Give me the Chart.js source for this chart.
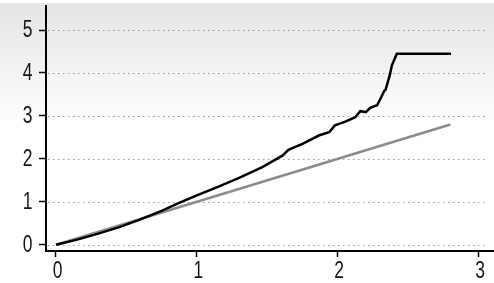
<!DOCTYPE html>
<html>
<head>
<meta charset="utf-8">
<script src="https://cdn.jsdelivr.net/npm/chart.js@4"></script>
<style>
  html, body { margin: 0; padding: 0; background: #fff; }
  #wrap { width: 494px; height: 283px; position: relative; }
</style>
</head>
<body>
<div id="wrap"><canvas id="chart"></canvas></div>
<script>
// observed curve (black)
const curveX = [0, 0.15, 0.3, 0.45, 0.59, 0.75, 0.87, 1.0, 1.15, 1.30, 1.465, 1.61, 1.65, 1.75, 1.87, 1.94, 1.98, 2.05, 2.125, 2.16, 2.20, 2.23, 2.28, 2.31, 2.33, 2.34, 2.37, 2.385, 2.42, 2.805];
const curveY = [0, 0.12, 0.26, 0.41, 0.58, 0.79, 0.97, 1.15, 1.35, 1.56, 1.81, 2.08, 2.21, 2.35, 2.55, 2.62, 2.78, 2.86, 2.97, 3.11, 3.09, 3.19, 3.25, 3.44, 3.58, 3.61, 3.95, 4.18, 4.45, 4.45];
// reference line (gray)
const refX = [0, 2.8];
const refY = [0, 2.8];
const xTicks = [0, 1, 2, 3];
const yTicks = [0, 1, 2, 3, 4, 5];

const toPoints = (xs, ys) => xs.map((x, i) => ({ x: x, y: ys[i] }));

const FONT = '23px "Liberation Sans", Arial, sans-serif';
const SQUEEZE = 0.76;

const backgroundPlugin = {
    id: 'bg',
    beforeDraw(chart) {
        const ctx = chart.ctx;
        ctx.save();
        const g = ctx.createLinearGradient(0, 3, 0, 120);
        g.addColorStop(0, '#e4e5e6');
        g.addColorStop(1, '#fdfdfd');
        ctx.fillStyle = g;
        ctx.fillRect(0, 3, chart.width, 117);
        ctx.restore();
    }
};

const dottedGrid = {
    id: 'dottedGrid',
    beforeDatasetsDraw(chart) {
        const ctx = chart.ctx;
        const y = chart.scales.y;
        const area = chart.chartArea;
        ctx.save();
        ctx.strokeStyle = '#9a9a9a';
        ctx.lineWidth = 1;
        ctx.setLineDash([1.5, 3.5]);
        yTicks.forEach(v => {
            const py = Math.round(y.getPixelForValue(v)) + 0.5;
            ctx.beginPath();
            ctx.moveTo(area.left + 2, py);
            ctx.lineTo(486, py);
            ctx.stroke();
        });
        ctx.restore();
    }
};

// condensed tick labels (no narrow font installed, so squeeze horizontally)
const tickLabels = {
    id: 'tickLabels',
    afterDraw(chart) {
        const ctx = chart.ctx;
        const xs = chart.scales.x, ys = chart.scales.y;
        ctx.save();
        ctx.font = FONT;
        ctx.fillStyle = '#151515';
        ctx.textBaseline = 'middle';
        ctx.textAlign = 'right';
        yTicks.forEach(v => {
            const py = ys.getPixelForValue(v);
            ctx.save();
            ctx.translate(32.5, py + 1);
            ctx.scale(SQUEEZE, 1);
            ctx.fillText(String(v), 0, 0);
            ctx.restore();
        });
        ctx.textAlign = 'center';
        ctx.textBaseline = 'alphabetic';
        xTicks.forEach(v => {
            const px = xs.getPixelForValue(v);
            ctx.save();
            ctx.translate(px + 1.5, 278);
            ctx.scale(SQUEEZE, 1);
            ctx.fillText(String(v), 0, 0);
            ctx.restore();
        });
        ctx.restore();
    }
};

new Chart(document.getElementById('chart').getContext('2d'), {
    type: 'scatter',
    data: {
        datasets: [
            {
                label: 'curve',
                data: toPoints(curveX, curveY),
                showLine: true,
                borderColor: '#000',
                borderWidth: 2.5,
                pointRadius: 0,
                tension: 0
            },
            {
                label: 'reference',
                data: toPoints(refX, refY),
                showLine: true,
                borderColor: '#8c8c8c',
                borderWidth: 2.5,
                pointRadius: 0,
                tension: 0
            }
        ]
    },
    options: {
        responsive: true,
        maintainAspectRatio: false,
        animation: false,
        layout: { padding: { top: 6, right: 0, left: 0, bottom: 0 } },
        plugins: { legend: { display: false }, tooltip: { enabled: false } },
        scales: {
            x: {
                type: 'linear',
                min: -0.071,
                max: 3.11,
                afterBuildTicks: s => { s.ticks = xTicks.map(v => ({ value: v })); },
                afterFit: s => { s.height = 32; },
                grid: { drawOnChartArea: false, tickLength: 6, tickColor: '#000', tickWidth: 1.5 },
                border: { color: '#000', width: 2 },
                ticks: { display: false }
            },
            y: {
                type: 'linear',
                min: -0.145,
                max: 5.56,
                afterBuildTicks: s => { s.ticks = yTicks.map(v => ({ value: v })); },
                afterFit: s => { s.width = 46; },
                grid: { drawOnChartArea: false, tickLength: 7, tickColor: '#000', tickWidth: 1.5 },
                border: { color: '#000', width: 2 },
                ticks: { display: false }
            }
        }
    },
    plugins: [backgroundPlugin, dottedGrid, tickLabels]
});
</script>
</body>
</html>
